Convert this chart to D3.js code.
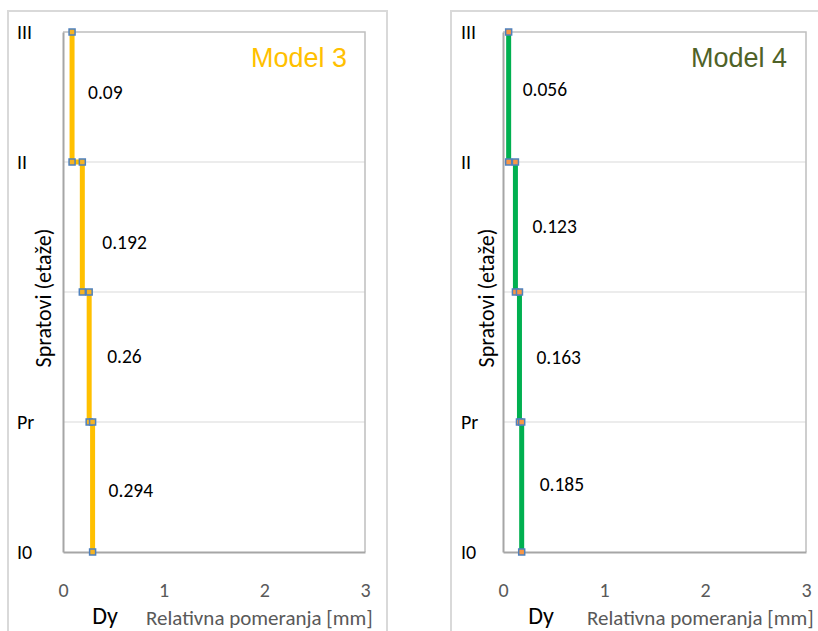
<!DOCTYPE html>
<html>
<head>
<meta charset="utf-8">
<script src="https://cdn.jsdelivr.net/npm/d3@7/dist/d3.min.js"></script>
<style>
  html, body { margin: 0; padding: 0; background: #fff; }
  svg { display: block; }
</style>
</head>
<body>
<svg id="chart" width="818" height="631"></svg>
<script>
// ---------------- data ----------------
const floorLevels = [0, 1, 2, 3, 4];
const floorLabels = ["I0", "Pr", "", "II", "III"];
const xTickValues = [0, 1, 2, 3];
const storyIndex = [0, 1, 2, 3];                 // story between level i and i+1
const model3Drift = [0.294, 0.26, 0.192, 0.09];  // bottom story first
const model4Drift = [0.185, 0.163, 0.123, 0.056];
const modelNames = ["Model 3", "Model 4"];
const xAxisTitle = "Relativna pomeranja [mm]";
const yAxisTitle = "Spratovi (etaže)";
const axisSymbol = "Dy";

// -------------- layout ----------------
const FONT = "Carlito, Lato, 'Open Sans', sans-serif";
const panels = [
  { name: modelNames[0], drift: model3Drift, outerX: 8, left: 63, right: 365,
    line: "#ffc000", markerFill: "#f5b324", titleColor: "#ffc000",
    titleX: 347, symbolX: 105, axisTitleX: 146, yTitleX: 43, labelX: 17,
    labelDy: [3, -1, 15, -5], labelDx: [16, 18, 20, 16] },
  { name: modelNames[1], drift: model4Drift, outerX: 451, left: 503, right: 806,
    line: "#00b050", markerFill: "#f79646", titleColor: "#4f6228",
    titleX: 787, symbolX: 541, axisTitleX: 587, yTitleX: 486, labelX: 461,
    labelDy: [-3, 0, -1, -8], labelDx: [18, 17, 17, 14] }
];
const plotTop = 32, plotBottom = 552;

const svg = d3.select("#chart");

panels.forEach((p, pi) => {
  const g = svg.append("g");
  const x = d3.scaleLinear().domain([0, 3]).range([p.left, p.right]);
  const y = d3.scaleLinear().domain([0, 4]).range([plotBottom, plotTop]);

  // outer chart border
  g.append("rect")
    .attr("x", p.outerX).attr("y", 11)
    .attr("width", 379).attr("height", 640)
    .attr("fill", "#fff").attr("stroke", "#d9d9d9").attr("stroke-width", 2);

  // horizontal gridlines
  g.append("g").selectAll("line").data(floorLevels.filter(d => d > 0 && d < 4))
    .join("line")
    .attr("x1", p.left).attr("x2", p.right)
    .attr("y1", d => y(d)).attr("y2", d => y(d))
    .attr("stroke", "#d9d9d9").attr("stroke-width", 1);

  // plot area border (top & right)
  g.append("path")
    .attr("d", `M${p.left},${y(4)}H${p.right}V${y(0)}`)
    .attr("fill", "none").attr("stroke", "#bfbfbf").attr("stroke-width", 1.5);

  // x axis
  const xAxis = d3.axisBottom(x).tickValues(xTickValues).tickSize(0).tickPadding(0)
    .tickFormat(d3.format("d"));
  const xg = g.append("g").attr("transform", `translate(0,${y(0)})`).call(xAxis);
  xg.select(".domain").attr("stroke", "#a6a6a6").attr("stroke-width", 2);
  xg.selectAll("text").attr("y", 45).attr("dy", 0)
    .attr("font-family", FONT).attr("font-size", 20).attr("fill", "#595959");

  // y axis (line only), labels drawn clipped
  const yAxis = d3.axisLeft(y).tickValues(floorLevels).tickSize(0).tickFormat("");
  const yg = g.append("g").attr("transform", `translate(${p.left},0)`).call(yAxis);
  yg.select(".domain").attr("stroke", "#a6a6a6").attr("stroke-width", 2);

  const clipId = "clip" + pi;
  svg.append("clipPath").attr("id", clipId)
    .append("rect").attr("x", p.labelX - 2).attr("y", 0)
    .attr("width", 22).attr("height", 631);
  g.append("g").attr("clip-path", `url(#${clipId})`)
    .selectAll("text").data(floorLevels).join("text")
    .attr("x", p.labelX).attr("y", d => y(d))
    .attr("dy", "0.36em")
    .attr("font-family", FONT).attr("font-size", 20).attr("fill", "#000")
    .text((d, i) => floorLabels[i]);

  // y axis title
  g.append("text")
    .attr("transform", `translate(${p.yTitleX},${(plotTop + plotBottom) / 2 + 6}) rotate(-90)`)
    .attr("text-anchor", "middle").attr("dominant-baseline", "central")
    .attr("font-family", FONT).attr("font-size", 22).attr("fill", "#000")
    .text(yAxisTitle);

  // x axis symbol and title
  g.append("text").attr("x", p.symbolX).attr("y", 624)
    .attr("text-anchor", "middle")
    .attr("font-family", FONT).attr("font-size", 24).attr("fill", "#000")
    .text(axisSymbol);
  g.append("text").attr("x", p.axisTitleX).attr("y", 625)
    .attr("font-family", FONT).attr("font-size", 21).attr("fill", "#595959")
    .text(xAxisTitle);

  // step line
  const pts = [];
  storyIndex.slice().reverse().forEach(i => {
    pts.push([p.drift[i], floorLevels[i + 1]]);
    pts.push([p.drift[i], floorLevels[i]]);
  });
  const line = d3.line().x(d => x(d[0])).y(d => y(d[1]));
  g.append("path").datum(pts)
    .attr("d", line)
    .attr("fill", "none").attr("stroke", p.line).attr("stroke-width", 5);

  g.append("g").selectAll("rect").data(pts).join("rect")
    .attr("x", d => x(d[0]) - 3).attr("y", d => y(d[1]) - 3)
    .attr("width", 6).attr("height", 6)
    .attr("fill", p.markerFill).attr("stroke", "#4f81bd").attr("stroke-width", 1.5);

  // data labels
  g.append("g").selectAll("text").data(storyIndex).join("text")
    .attr("x", i => x(p.drift[i]) + p.labelDx[i])
    .attr("y", i => (y(floorLevels[i]) + y(floorLevels[i + 1])) / 2 + p.labelDy[i])
    .attr("dy", "0.36em")
    .attr("font-family", FONT).attr("font-size", 19.5).attr("fill", "#000")
    .text(i => String(p.drift[i]));

  // model title
  g.append("text").attr("x", p.titleX).attr("y", 67)
    .attr("text-anchor", "end")
    .attr("font-family", "'Liberation Sans', Arial, sans-serif")
    .attr("font-size", 27).attr("fill", p.titleColor)
    .text(p.name);
});
</script>
</body>
</html>
